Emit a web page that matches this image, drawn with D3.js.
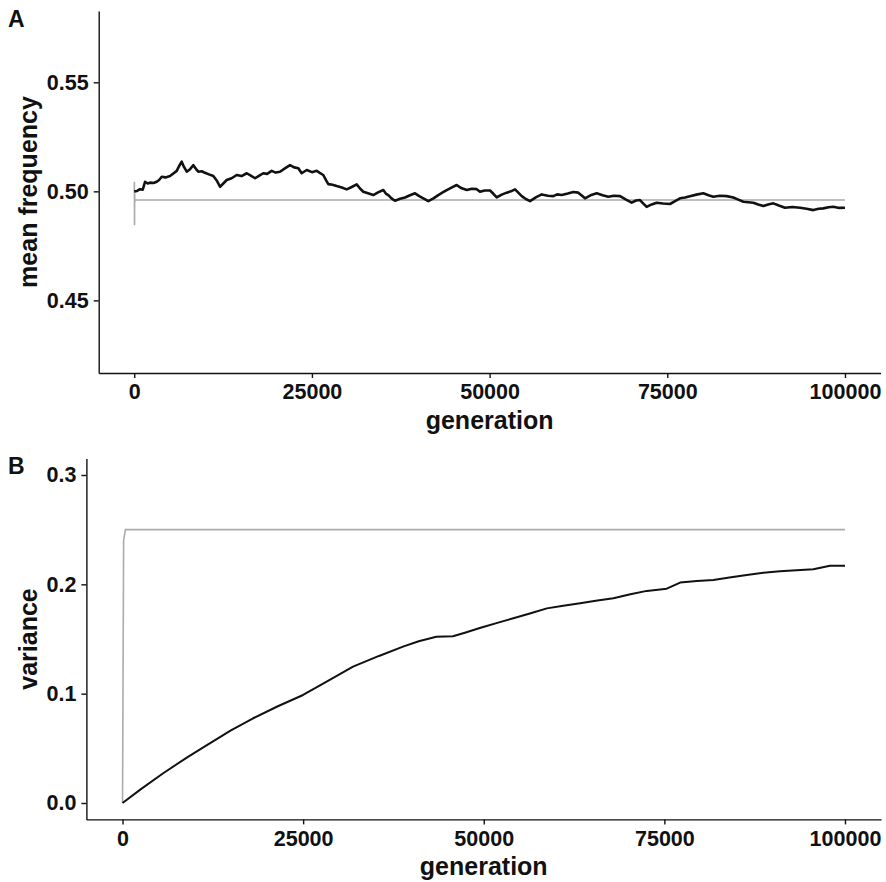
<!DOCTYPE html>
<html>
<head>
<meta charset="utf-8">
<script src="https://cdn.jsdelivr.net/npm/d3@7"></script>
<style>
  html, body { margin: 0; padding: 0; background: #fff; }
  svg { display: block; }
  .axis text { font-family: "Liberation Sans", Arial, Helvetica, sans-serif; font-weight: bold; font-size: 21.5px; fill: #111; }
  .axis path, .axis line { stroke: #111; stroke-width: 1.4px; }
  .title { font-family: "Liberation Sans", Arial, Helvetica, sans-serif; font-weight: bold; font-size: 25px; fill: #111; }
  .tag { font-family: "Liberation Sans", Arial, Helvetica, sans-serif; font-weight: bold; font-size: 23px; fill: #111; }
</style>
</head>
<body>
<svg id="chart" width="886" height="882"></svg>
<script>
// Generation ticks shared by both panels
const genTicks = [0, 25000, 50000, 75000, 100000];

// Panel A: mean allele frequency over generations
const meanTicks = [0.45, 0.50, 0.55];
const meanSimGen = [0, 400, 816, 1200, 1520, 1900, 2220, 2700, 3170, 3500, 3870, 4400, 5040, 5500, 5980, 6300, 6680, 7000, 7390, 7800,
  8320, 8700, 9020, 9500, 9960, 10500, 11130, 11600, 12070, 12500, 13010, 13700, 14420, 15100, 15830, 16400, 17000, 17600, 18160, 18700,
  19340, 19900, 20510, 21200, 21920, 22500, 23090, 23560, 24270, 25000, 25680, 26100, 26600, 27000, 27310, 27900, 28490, 29200, 29900, 30600,
  31300, 31800, 32230, 33000, 33640, 34300, 35050, 35400, 35750, 36200, 36690, 37400, 38100, 38800, 39510, 40100, 40680, 41380, 42100, 42780,
  43400, 43970, 44700, 45370, 46000, 46780, 47500, 48190, 48650, 49300, 50060, 50500, 51000, 51700, 52410, 53000, 53580, 54000, 54520, 55100,
  55690, 56500, 57330, 58200, 58970, 59500, 60140, 61000, 61780, 62480, 63000, 63420, 64200, 65070, 65900, 66700, 67500, 68350, 69200, 69990,
  70600, 71160, 71600, 72100, 72800, 73510, 74400, 75380, 76100, 76790, 77500, 78190, 79100, 80070, 80800, 81470, 82400, 83360, 84290, 85000,
  85700, 86400, 87100, 87800, 88510, 89200, 89920, 90700, 91560, 92600, 93670, 94600, 95550, 96300, 96950, 97700, 98360, 99200, 100000];
const meanSimVal = [0.5000, 0.5002, 0.5010, 0.5008, 0.5044, 0.5036, 0.5040, 0.5038, 0.5044, 0.5052, 0.5067, 0.5064, 0.5070, 0.5082, 0.5094, 0.5115, 0.5136, 0.5112, 0.5090, 0.5100,
  0.5120, 0.5102, 0.5090, 0.5092, 0.5085, 0.5078, 0.5070, 0.5050, 0.5021, 0.5035, 0.5052, 0.5060, 0.5075, 0.5070, 0.5083, 0.5072, 0.5060, 0.5072, 0.5083, 0.5080,
  0.5094, 0.5086, 0.5090, 0.5105, 0.5120, 0.5110, 0.5106, 0.5083, 0.5098, 0.5088, 0.5094, 0.5085, 0.5075, 0.5050, 0.5033, 0.5030, 0.5024, 0.5018, 0.5009, 0.5020,
  0.5032, 0.5012, 0.4998, 0.4990, 0.4983, 0.4995, 0.5006, 0.4990, 0.4983, 0.4968, 0.4957, 0.4966, 0.4972, 0.4982, 0.4991, 0.4978, 0.4968, 0.4955, 0.4968, 0.4983,
  0.4995, 0.5006, 0.5018, 0.5029, 0.5015, 0.5006, 0.5012, 0.5010, 0.4998, 0.5004, 0.5004, 0.4990, 0.4972, 0.4985, 0.4994, 0.5000, 0.5009, 0.4995, 0.4978, 0.4965,
  0.4955, 0.4972, 0.4986, 0.4980, 0.4978, 0.4986, 0.4983, 0.4990, 0.4997, 0.4994, 0.4980, 0.4968, 0.4982, 0.4991, 0.4982, 0.4975, 0.4980, 0.4978, 0.4962, 0.4948,
  0.4958, 0.4960, 0.4945, 0.4929, 0.4940, 0.4948, 0.4944, 0.4942, 0.4955, 0.4968, 0.4972, 0.4978, 0.4985, 0.4991, 0.4982, 0.4975, 0.4980, 0.4978, 0.4972, 0.4962,
  0.4952, 0.4950, 0.4948, 0.4940, 0.4933, 0.4940, 0.4945, 0.4935, 0.4925, 0.4928, 0.4925, 0.4920, 0.4914, 0.4920, 0.4922, 0.4927, 0.4929, 0.4924, 0.4925];
const meanExpGen = [0, 20, 40, 60, 80, 100, 100000];
const meanExpVal = [0.5000, 0.5044, 0.4845, 0.4990, 0.4950, 0.4960, 0.4960];

// Panel B: variance over generations
const varTicks = [0.0, 0.1, 0.2, 0.3];
const varSimGen = [0, 2500, 5630, 9000, 12075, 15000, 18077, 21500, 24993, 28500, 31908, 35500, 38824, 41000, 43430, 45740, 47500, 49447,
  52000, 54100, 56500, 58740, 61000, 63350, 65500, 67950, 70300, 72570, 75330, 77180, 79500, 81790, 84000, 86400, 88700, 91000, 93300,
  95620, 97925, 100000];
const varSimVal = [0.0000, 0.0125, 0.0272, 0.0420, 0.0546, 0.0665, 0.0775, 0.0885, 0.0988, 0.1120, 0.1247, 0.1345, 0.1430, 0.1480, 0.1520, 0.1525, 0.1560, 0.1600,
  0.1650, 0.1690, 0.1735, 0.1780, 0.1805, 0.1827, 0.1850, 0.1873, 0.1910, 0.1940, 0.1960, 0.2016, 0.2030, 0.2040, 0.2062, 0.2086, 0.2105, 0.2120, 0.2128,
  0.2138, 0.2170, 0.2170];
const varExpGen = [0, 150, 400, 100000];
const varExpVal = [0.0000, 0.2400, 0.2500, 0.2500];

const svg = d3.select("#chart");
const zip = (g, v) => g.map((d, i) => [d, v[i]]);

function drawPanel(cfg) {
  const x = d3.scaleLinear().domain([-5000, 105000]).range([cfg.left, cfg.right]);
  const y = d3.scaleLinear().domain(cfg.yDomain).range([cfg.bottom, cfg.top]);
  const g = svg.append("g");

  const line = d3.line().x(d => x(d[0])).y(d => y(d[1]));

  // expected trajectory (grey)
  g.append("path")
    .datum(zip(cfg.expGen, cfg.expVal))
    .attr("d", line)
    .attr("fill", "none")
    .attr("stroke", "#ababab")
    .attr("stroke-width", 1.6);

  // simulated trajectory (black)
  g.append("path")
    .datum(zip(cfg.simGen, cfg.simVal))
    .attr("d", line)
    .attr("fill", "none")
    .attr("stroke", "#111")
    .attr("stroke-width", cfg.simWidth)
    .attr("stroke-linejoin", "round");

  g.append("g")
    .attr("class", "axis")
    .attr("transform", `translate(0,${cfg.bottom})`)
    .call(d3.axisBottom(x).tickValues(genTicks).tickFormat(d3.format("d")).tickSize(5).tickSizeOuter(0).tickPadding(6));

  g.append("g")
    .attr("class", "axis")
    .attr("transform", `translate(${cfg.left},0)`)
    .call(d3.axisLeft(y).tickValues(cfg.yTicks).tickFormat(d3.format(cfg.yFormat)).tickSize(5).tickSizeOuter(0).tickPadding(5));

  g.append("text")
    .attr("class", "title")
    .attr("x", (cfg.left + cfg.right) / 2)
    .attr("y", cfg.bottom + 56)
    .attr("text-anchor", "middle")
    .text("generation");

  g.append("text")
    .attr("class", "title")
    .attr("transform", `translate(37,${(cfg.top + cfg.bottom) / 2}) rotate(-90)`)
    .attr("text-anchor", "middle")
    .text(cfg.yTitle);

  g.append("text")
    .attr("class", "tag")
    .attr("x", 8)
    .attr("y", cfg.tagY)
    .text(cfg.tag);
}

drawPanel({
  tag: "A", tagY: 27,
  left: 98.7, right: 880.5, top: 11, bottom: 373,
  yDomain: [0.4167, 0.5827], yTicks: meanTicks, yFormat: ".2f", yTitle: "mean frequency",
  simGen: meanSimGen, simVal: meanSimVal, simWidth: 2.6,
  expGen: meanExpGen, expVal: meanExpVal
});

drawPanel({
  tag: "B", tagY: 474,
  left: 86.4, right: 881.1, top: 458.6, bottom: 819.4,
  yDomain: [-0.015, 0.315], yTicks: varTicks, yFormat: ".1f", yTitle: "variance",
  simGen: varSimGen, simVal: varSimVal, simWidth: 2.0,
  expGen: varExpGen, expVal: varExpVal
});
</script>
</body>
</html>
